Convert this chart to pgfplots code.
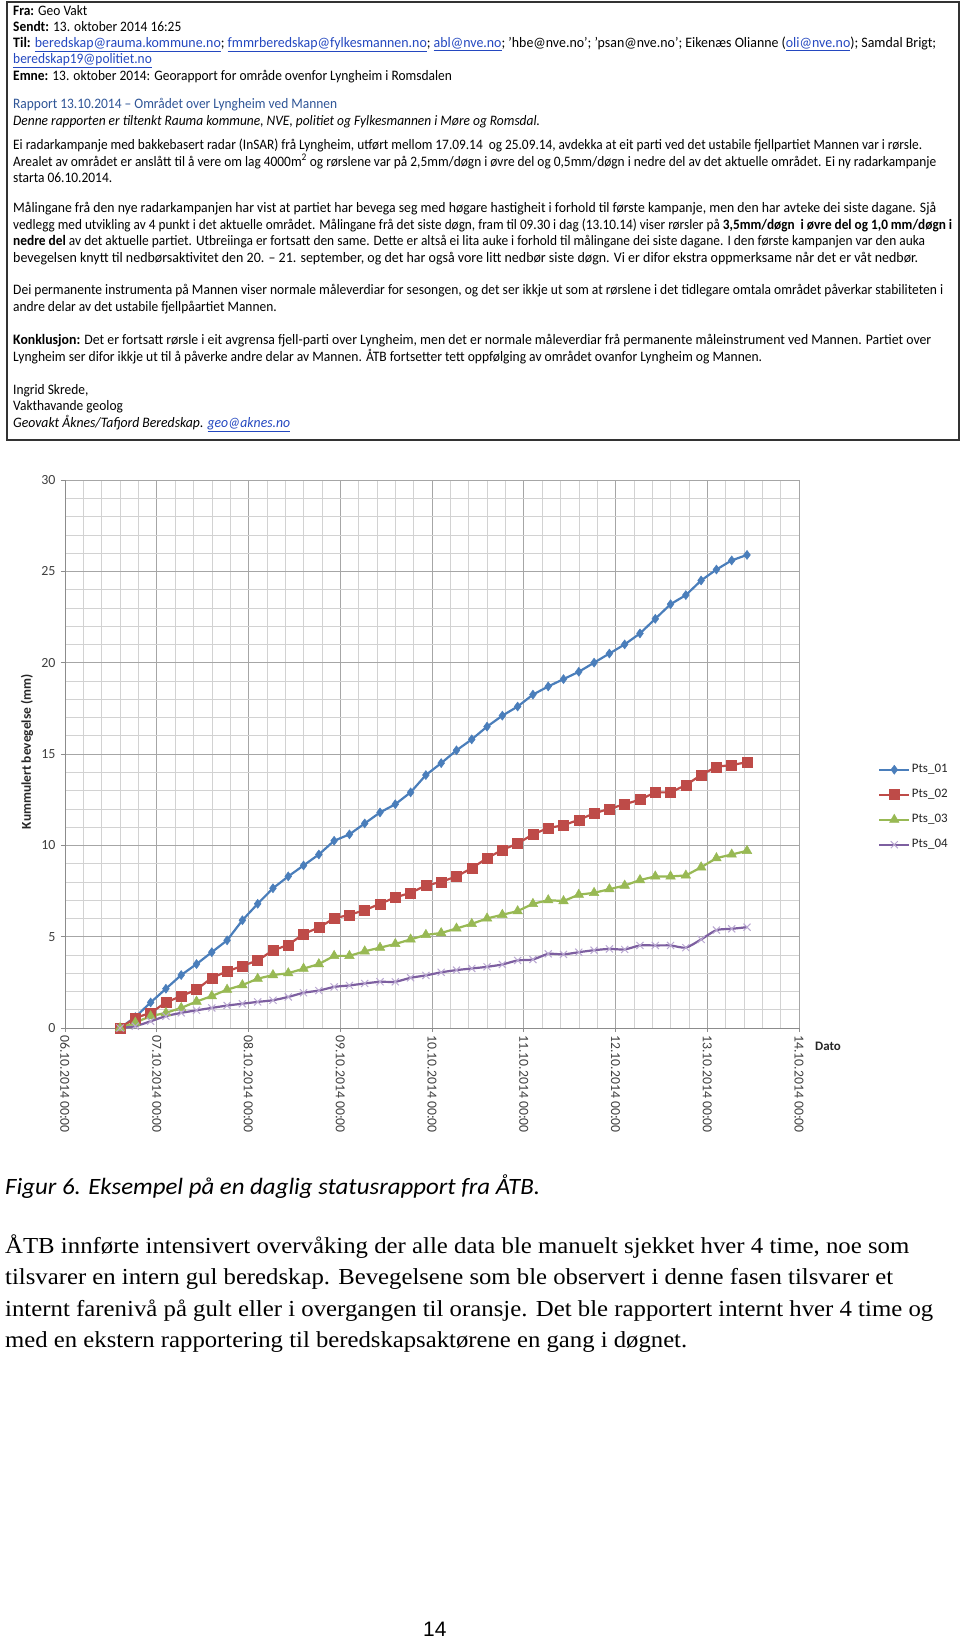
\documentclass[border=0pt]{standalone}
\usepackage{fontspec}
\setmainfont{Carlito}
\newfontfamily\timesf{Liberation Serif}
\newfontfamily\arialf{Liberation Sans}
\usepackage{graphicx}
\usepackage{pgfplots}
\usepackage{pgfplotstable}
\pgfplotsset{compat=1.18}

\definecolor{c1}{HTML}{4A7EBB}
\definecolor{c2}{HTML}{BE4B48}
\definecolor{c3}{HTML}{98B954}
\definecolor{c4}{HTML}{7D5FA0}
\definecolor{c4m}{HTML}{B9A7D1}
\definecolor{gridmaj}{HTML}{A6A6A6}
\definecolor{gridmin}{HTML}{D2D2D2}
\definecolor{axisgray}{HTML}{8C8C8C}
\definecolor{ticktext}{HTML}{404040}
\definecolor{linkblue}{HTML}{2448C0}
\definecolor{headblue}{HTML}{2F5597}

\pgfplotstableread{
h p1 p2 p3 p4
14.4 0 0 0 0
18.4 0.6 0.55 0.3 0.1
22.4 1.4 0.83 0.65 0.37
26.4 2.15 1.4 0.83 0.65
30.4 2.9 1.75 1.1 0.83
34.4 3.5 2.1 1.45 0.97
38.4 4.15 2.75 1.75 1.1
42.4 4.8 3.1 2.1 1.23
46.4 5.9 3.4 2.35 1.33
50.4 6.8 3.7 2.7 1.43
54.4 7.65 4.25 2.9 1.52
58.4 8.3 4.55 3.0 1.7
62.4 8.9 5.15 3.25 1.93
66.4 9.5 5.5 3.5 2.05
70.4 10.25 6.0 3.95 2.25
74.4 10.6 6.2 3.95 2.33
78.4 11.2 6.45 4.2 2.44
82.4 11.8 6.8 4.4 2.53
86.4 12.25 7.15 4.6 2.53
90.4 12.9 7.4 4.85 2.75
94.4 13.85 7.8 5.1 2.88
98.4 14.5 8.0 5.2 3.05
102.4 15.2 8.3 5.45 3.17
106.4 15.8 8.75 5.7 3.26
110.4 16.5 9.3 6.0 3.35
114.4 17.1 9.75 6.2 3.48
118.4 17.6 10.1 6.4 3.7
122.4 18.25 10.6 6.8 3.75
126.4 18.7 10.95 7.0 4.06
130.4 19.1 11.1 6.95 4.03
134.4 19.5 11.4 7.3 4.15
138.4 20.0 11.75 7.4 4.26
142.4 20.5 12.0 7.6 4.33
146.4 21.0 12.25 7.8 4.3
150.4 21.6 12.5 8.1 4.52
154.4 22.4 12.9 8.3 4.52
158.4 23.2 12.9 8.3 4.52
162.4 23.7 13.3 8.35 4.4
166.4 24.5 13.85 8.8 4.85
170.4 25.1 14.3 9.3 5.36
174.4 25.6 14.4 9.5 5.43
178.4 25.9 14.55 9.7 5.52
}\ptsdata

\newsavebox\linebox
\newdimen\lw
\newcommand\fitline[2]{\sbox\linebox{#2}\lw=\wd\linebox\pgfmathsetmacro\sx{#1*1.00375/\lw}\scalebox{\sx}[1]{\usebox\linebox}}
\newcommand\ef{\fontsize{14.5}{17}\selectfont}
\newcommand\nat[1]{\scalebox{0.93}[1]{\ef #1}}
\newcommand\lnk[1]{\textcolor{linkblue}{\underline{#1}}}

\begin{document}
\begin{tikzpicture}[L/.style={anchor=base west, inner sep=0pt}]
\fill[white] (0,0) rectangle (960bp,-1638bp);
\path[use as bounding box] (0,0) rectangle (960bp,-1638bp);
% e-mail box
\draw[line width=1.5bp, draw=black!80] (7bp,-2bp) rectangle (959bp,-440bp);
\node[L] at (13bp,-15bp) {\nat{\textbf{Fra:} Geo Vakt}};
\node[L] at (13bp,-31bp) {\nat{\textbf{Sendt:} 13. oktober 2014 16:25}};
\node[L] at (13bp,-47.5bp) {\fitline{923}{\ef\textbf{Til:} \lnk{beredskap@rauma.kommune.no}; \lnk{fmmrberedskap@fylkesmannen.no}; \lnk{abl@nve.no}; 'hbe@nve.no'; 'psan@nve.no'; Eikenæs Olianne (\lnk{oli@nve.no}); Samdal Brigt;}};
\node[L] at (13bp,-63.5bp) {\nat{\lnk{beredskap19@politiet.no}}};
\node[L] at (13bp,-80bp) {\nat{\textbf{Emne:} 13. oktober 2014: Georapport for område ovenfor Lyngheim i Romsdalen}};
\node[L] at (13bp,-108.5bp) {\nat{\textcolor{headblue}{Rapport 13.10.2014 – Området over Lyngheim ved Mannen}}};
\node[L] at (13bp,-125bp) {\nat{\textit{Denne rapporten er tiltenkt Rauma kommune, NVE, politiet og Fylkesmannen i Møre og Romsdal.}}};
\node[L] at (13bp,-149bp) {\fitline{909}{\ef Ei radarkampanje med bakkebasert radar (InSAR) frå Lyngheim, utført mellom 17.09.14\ \ og 25.09.14, avdekka at eit parti ved det ustabile fjellpartiet Mannen var i rørsle.}};
\node[L] at (13bp,-166bp) {\fitline{923}{\ef Arealet av området er anslått til å vere om lag 4000m\textsuperscript{2} og rørslene var på 2,5mm/døgn i øvre del og 0,5mm/døgn i nedre del av det aktuelle området. Ei ny radarkampanje}};
\node[L] at (13bp,-182bp) {\nat{starta 06.10.2014.}};
\node[L] at (13bp,-212bp) {\fitline{923}{\ef Målingane frå den nye radarkampanjen har vist at partiet har bevega seg med høgare hastigheit i forhold til første kampanje, men den har avteke dei siste dagane. Sjå}};
\node[L] at (13bp,-229bp) {\fitline{939}{\ef vedlegg med utvikling av 4 punkt i det aktuelle området. Målingane frå det siste døgn, fram til 09.30 i dag (13.10.14) viser rørsler på \textbf{3,5mm/døgn\ \ i øvre del og 1,0 mm/døgn i}}};
\node[L] at (13bp,-245.5bp) {\fitline{912}{\ef\textbf{nedre del} av det aktuelle partiet. Utbreiinga er fortsatt den same. Dette er altså ei lita auke i forhold til målingane dei siste dagane. I den første kampanjen var den auka}};
\node[L] at (13bp,-262bp) {\fitline{905}{\ef bevegelsen knytt til nedbørsaktivitet den 20. – 21. september, og det har også vore litt nedbør siste døgn. Vi er difor ekstra oppmerksame når det er våt nedbør.}};
\node[L] at (13bp,-294bp) {\fitline{930}{\ef Dei permanente instrumenta på Mannen viser normale måleverdiar for sesongen, og det ser ikkje ut som at rørslene i det tidlegare omtala området påverkar stabiliteten i}};
\node[L] at (13bp,-311bp) {\nat{andre delar av det ustabile fjellpåartiet Mannen.}};
\node[L] at (13bp,-344bp) {\fitline{918}{\ef\textbf{Konklusjon:} Det er fortsatt rørsle i eit avgrensa fjell-parti over Lyngheim, men det er normale måleverdiar frå permanente måleinstrument ved Mannen. Partiet over}};
\node[L] at (13bp,-361bp) {\fitline{749}{\ef Lyngheim ser difor ikkje ut til å påverke andre delar av Mannen. ÅTB fortsetter tett oppfølging av området ovanfor Lyngheim og Mannen.}};
\node[L] at (13bp,-394bp) {\nat{Ingrid Skrede,}};
\node[L] at (13bp,-410.5bp) {\nat{Vakthavande geolog}};
\node[L] at (13bp,-427bp) {\fitline{277}{\ef\textit{Geovakt Åknes/Tafjord Beredskap. \lnk{geo@aknes.no}}}};

\begin{axis}[
  at={(65bp,-1028bp)}, anchor=south west,
  scale only axis, width=734bp, height=548bp,
  xmin=0, xmax=192, ymin=0, ymax=30,
  xtick={0,24,...,192},
  xticklabels={06.10.2014 00:00,07.10.2014 00:00,08.10.2014 00:00,09.10.2014 00:00,10.10.2014 00:00,11.10.2014 00:00,12.10.2014 00:00,13.10.2014 00:00,14.10.2014 00:00},
  minor x tick num=4,
  ytick={0,5,...,30}, minor y tick num=4,
  grid=both,
  major grid style={draw=gridmaj, line width=0.8bp},
  minor grid style={draw=gridmin, line width=0.6bp},
  axis lines*=left,
  axis line style={draw=axisgray, line width=0.9bp},
  tick align=outside, major tick length=4bp, minor tick length=0pt,
  tick style={draw=axisgray, line width=0.8bp},
  /pgf/number format/assume math mode=true,
  xticklabel style={rotate=-90, anchor=west, font=\fontsize{13.8}{13.8}\selectfont, text=ticktext},
  yticklabel style={font=\fontsize{14}{14}\selectfont, text=ticktext, xshift=-2bp},
  ylabel={Kummulert bevegelse (mm)},
  ylabel style={at={(axis description cs:-0.0518,0.504)}, anchor=center, font=\bfseries\fontsize{13.5}{13.5}\selectfont, text=black!85},
  xlabel={Dato},
  xlabel style={at={(axis description cs:1.0395,-0.0328)}, anchor=center, font=\bfseries\fontsize{13}{13}\selectfont, text=black!85},
  legend style={at={(1.1076,0.4854)}, anchor=north west, draw=none, fill=none, inner sep=0pt, row sep=10bp,
    font=\fontsize{13}{13}\selectfont, text=black!85,
    nodes={inner sep=1.5bp, text height=9bp, text depth=3bp}},
  legend cell align=left,
  legend image code/.code={\draw[mark repeat=2,mark phase=2] plot coordinates {(0bp,0bp)(15bp,0bp)(30bp,0bp)};},
]
\addplot[color=c1, line width=2.2bp, mark=diamond*, mark size=4.5bp, mark options={solid, fill=c1, draw=c1, line width=0.5bp}] table[x=h,y=p1]{\ptsdata};
\addlegendentry{Pts\_01}
\addplot[color=c2, line width=2.2bp, mark=square*, mark size=5bp, mark options={solid, fill=c2, draw=c2, line width=0.5bp}] table[x=h,y=p2]{\ptsdata};
\addlegendentry{Pts\_02}
\addplot[color=c3, line width=2.2bp, mark=triangle*, mark size=5.5bp, mark options={solid, fill=c3, draw=c3, line width=0.5bp}] table[x=h,y=p3]{\ptsdata};
\addlegendentry{Pts\_03}
\addplot[color=c4, line width=2.2bp, smooth, tension=0.4, mark=x, mark size=5bp, mark options={solid, draw=c4m, line width=1bp}] table[x=h,y=p4]{\ptsdata};
\addlegendentry{Pts\_04}
\end{axis}

% caption and body text
\node[L] at (5bp,-1194bp) {\fitline{535}{\fontsize{23.5}{27}\selectfont\itshape Figur 6. Eksempel på en daglig statusrapport fra ÅTB.}};
\node[L] at (5bp,-1253bp) {\fitline{904}{\timesf\fontsize{23}{30}\selectfont ÅTB innførte intensivert overvåking der alle data ble manuelt sjekket hver 4 time, noe som}};
\node[L] at (5bp,-1284.5bp) {\fitline{888}{\timesf\fontsize{23}{30}\selectfont tilsvarer en intern gul beredskap. Bevegelsene som ble observert i denne fasen tilsvarer et}};
\node[L] at (5bp,-1316bp) {\fitline{928}{\timesf\fontsize{23}{30}\selectfont internt farenivå på gult eller i overgangen til oransje. Det ble rapportert internt hver 4 time og}};
\node[L] at (5bp,-1347bp) {\fitline{682}{\timesf\fontsize{23}{30}\selectfont med en ekstern rapportering til beredskapsaktørene en gang i døgnet.}};
\node[L] at (423bp,-1636bp) {\arialf\fontsize{21}{21}\selectfont 14};
\end{tikzpicture}
\end{document}
